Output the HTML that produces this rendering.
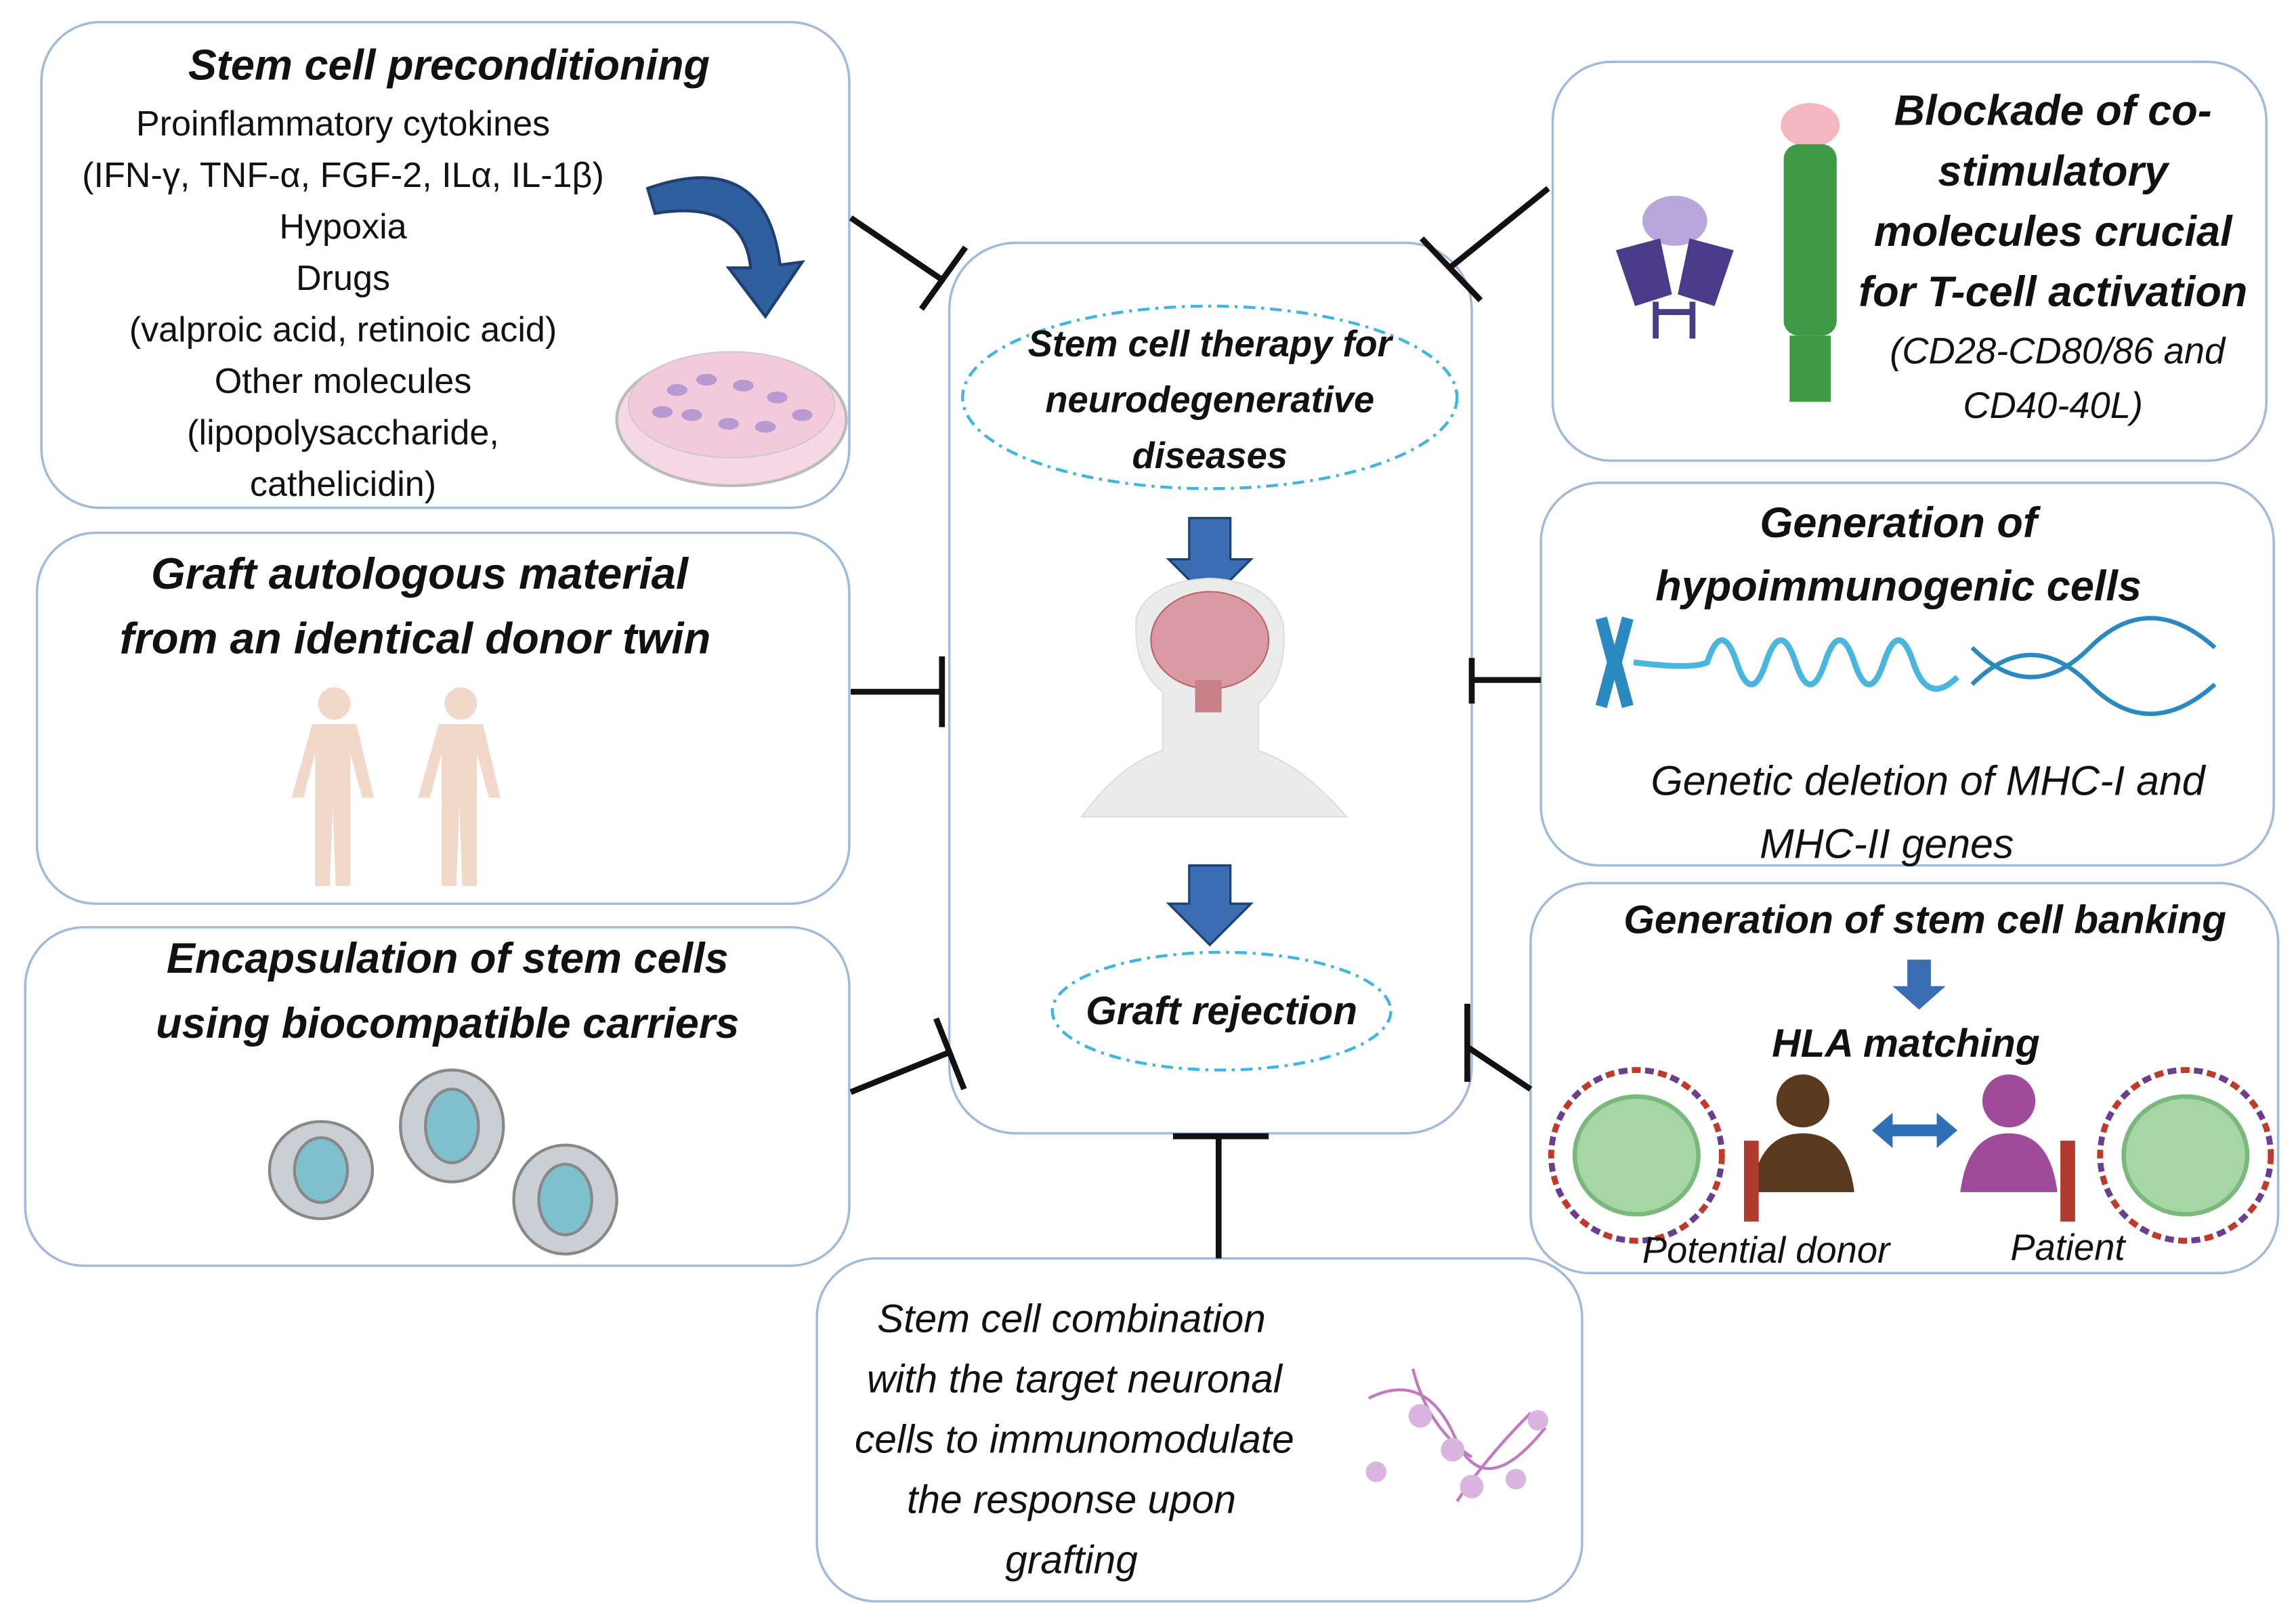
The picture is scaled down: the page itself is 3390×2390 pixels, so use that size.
<!DOCTYPE html>
<html><head><meta charset="utf-8"><style>
html,body{margin:0;padding:0;background:#fff}
svg{display:block}
text{font-family:"Liberation Sans",sans-serif;fill:#111}
.t{font-weight:bold;font-style:italic;font-size:29px}
.n{font-size:24px}
.i{font-style:italic;font-size:27px}
.b{fill:#fff;stroke:#9fbadc;stroke-width:1.6}
.l{stroke:#111;stroke-width:4;fill:none}
</style></head><body>
<svg width="3390" height="2390" viewBox="0 0 1560 1100" xmlns="http://www.w3.org/2000/svg">
<!-- boxes -->
<rect class="b" x="28" y="15" width="549" height="330" rx="40"/>
<rect class="b" x="25" y="362" width="552" height="252" rx="40"/>
<rect class="b" x="17" y="630" width="560" height="230" rx="40"/>
<rect class="b" x="645" y="165" width="355" height="605" rx="45"/>
<rect class="b" x="1055" y="42" width="485" height="271" rx="40"/>
<rect class="b" x="1047" y="328" width="498" height="260" rx="40"/>
<rect class="b" x="1040" y="600" width="508" height="265" rx="40"/>
<rect class="b" x="555" y="855" width="520" height="233" rx="40"/>

<!-- inhibition connectors -->
<line class="l" x1="578" y1="148" x2="640" y2="190"/><line class="l" x1="626" y1="210" x2="656" y2="168"/>
<line class="l" x1="578" y1="470" x2="640" y2="470"/><line class="l" x1="640" y1="446" x2="640" y2="494"/>
<line class="l" x1="578" y1="742" x2="645" y2="715"/><line class="l" x1="636" y1="692" x2="655" y2="740"/>
<line class="l" x1="1052" y1="128" x2="985" y2="182"/><line class="l" x1="966" y1="162" x2="1006" y2="204"/>
<line class="l" x1="1047" y1="462" x2="1000" y2="462"/><line class="l" x1="1000" y1="447" x2="1000" y2="478"/>
<line class="l" x1="1040" y1="740" x2="998" y2="712"/><line class="l" x1="997" y1="682" x2="997" y2="735"/>
<line class="l" x1="828" y1="855" x2="828" y2="772"/><line class="l" x1="797" y1="772" x2="862" y2="772"/>

<!-- center -->
<ellipse cx="822" cy="270" rx="168" ry="62" fill="none" stroke="#3fb6e0" stroke-width="2" stroke-dasharray="8,4,2,4"/>
<text class="t" x="822" y="242" text-anchor="middle" font-size="25" style="font-size:25px">Stem cell  therapy for</text>
<text class="t" x="822" y="280" text-anchor="middle" style="font-size:25px">neurodegenerative</text>
<text class="t" x="822" y="318" text-anchor="middle" style="font-size:25px">diseases</text>
<polygon points="808,352 836,352 836,380 850,380 822,408 794,380 808,380" fill="#3b6db3" stroke="#1f3f70" stroke-width="1.5"/>
<!-- head -->
<path d="M735,555 Q760,520 790,510 L790,470 Q770,455 772,420 Q780,395 822,393 Q865,395 872,425 Q875,460 855,478 L855,510 Q885,520 915,555 Z" fill="#ececec" stroke="#ddd"/>
<ellipse cx="822" cy="435" rx="40" ry="33" fill="#d99aa3" stroke="#b66" stroke-width="1"/>
<rect x="812" y="462" width="18" height="22" fill="#c77f88"/>
<polygon points="808,588 836,588 836,614 850,614 822,642 794,614 808,614" fill="#3b6db3" stroke="#1f3f70" stroke-width="1.5"/>
<ellipse cx="830" cy="687" rx="115" ry="40" fill="none" stroke="#3fb6e0" stroke-width="2" stroke-dasharray="8,4,2,4"/>
<text class="t" x="830" y="696" text-anchor="middle" style="font-size:27px">Graft rejection</text>

<!-- box1 -->
<text class="t" x="305" y="54" text-anchor="middle">Stem cell preconditioning</text>
<g class="n" text-anchor="middle">
<text class="n" x="233" y="92" text-anchor="middle">Proinflammatory cytokines</text>
<text class="n" x="233" y="127" text-anchor="middle">(IFN-γ, TNF-α, FGF-2, ILα, IL-1β)</text>
<text class="n" x="233" y="162" text-anchor="middle">Hypoxia</text>
<text class="n" x="233" y="197" text-anchor="middle">Drugs</text>
<text class="n" x="233" y="232" text-anchor="middle">(valproic acid,  retinoic acid)</text>
<text class="n" x="233" y="267" text-anchor="middle">Other molecules</text>
<text class="n" x="233" y="302" text-anchor="middle">(lipopolysaccharide,</text>
<text class="n" x="233" y="337" text-anchor="middle">cathelicidin)</text>
</g>
<path d="M440,128 Q520,100 530,180 L545,178 L520,215 L495,182 L510,182 Q505,135 445,145 Z" fill="#2f5f9f" stroke="#1f3f70" stroke-width="2"/>
<ellipse cx="497" cy="285" rx="78" ry="45" fill="#f6d7e4" stroke="#bbb" stroke-width="2"/>
<ellipse cx="497" cy="275" rx="70" ry="36" fill="#f3c9dc" stroke="#ccc"/>
<g fill="#b79ad0"><ellipse cx="460" cy="265" rx="7" ry="4"/><ellipse cx="480" cy="258" rx="7" ry="4"/><ellipse cx="505" cy="262" rx="7" ry="4"/><ellipse cx="528" cy="270" rx="7" ry="4"/><ellipse cx="470" cy="282" rx="7" ry="4"/><ellipse cx="495" cy="288" rx="7" ry="4"/><ellipse cx="520" cy="290" rx="7" ry="4"/><ellipse cx="545" cy="282" rx="7" ry="4"/><ellipse cx="450" cy="280" rx="7" ry="4"/></g>

<!-- box2 -->
<text class="t" x="285" y="400" text-anchor="middle" style="font-size:30px">Graft autologous material</text>
<text class="t" x="282" y="444" text-anchor="middle" style="font-size:30px">from an identical donor twin</text>
<g fill="#f2d8c8">
<circle cx="227" cy="478" r="11"/><path d="M212,492 h30 l12,50 h-8 l-8,-30 l0,90 h-10 l-2,-55 l-2,55 h-10 l0,-90 l-8,30 h-8 z"/>
<circle cx="313" cy="478" r="11"/><path d="M298,492 h30 l12,50 h-8 l-8,-30 l0,90 h-10 l-2,-55 l-2,55 h-10 l0,-90 l-8,30 h-8 z"/>
</g>

<!-- box3 -->
<text class="t" x="304" y="661" text-anchor="middle">Encapsulation of  stem cells</text>
<text class="t" x="304" y="705" text-anchor="middle">using biocompatible carriers</text>
<g stroke="#888" stroke-width="2">
<ellipse cx="218" cy="795" rx="35" ry="33" fill="#c9cfd3"/><ellipse cx="218" cy="795" rx="18" ry="22" fill="#7fc0cf"/>
<ellipse cx="307" cy="765" rx="35" ry="38" fill="#c9cfd3"/><ellipse cx="307" cy="765" rx="18" ry="25" fill="#7fc0cf"/>
<ellipse cx="384" cy="815" rx="35" ry="37" fill="#c9cfd3"/><ellipse cx="384" cy="815" rx="18" ry="24" fill="#7fc0cf"/>
</g>

<!-- box5 -->
<text class="t" x="1395" y="85" text-anchor="middle">Blockade of co-</text>
<text class="t" x="1395" y="126" text-anchor="middle">stimulatory</text>
<text class="t" x="1395" y="167" text-anchor="middle">molecules crucial</text>
<text class="t" x="1395" y="208" text-anchor="middle">for T-cell activation</text>
<text class="i" x="1398" y="247" text-anchor="middle" style="font-size:25px">(CD28-CD80/86 and</text>
<text class="i" x="1395" y="284" text-anchor="middle" style="font-size:25px">CD40-40L)</text>
<ellipse cx="1138" cy="150" rx="22" ry="17" fill="#b9a7dc"/>
<path d="M1098,170 l30,-8 l8,38 l-25,8 z M1178,170 l-30,-8 l-8,38 l25,8 z" fill="#4a3a8a"/>
<path d="M1125,205 v25 M1150,205 v25 M1125,212 h25" stroke="#4a3a8a" stroke-width="4"/>
<ellipse cx="1230" cy="85" rx="20" ry="15" fill="#f4b7c0"/>
<rect x="1212" y="98" width="36" height="130" rx="10" fill="#3f9a45"/>
<rect x="1216" y="228" width="28" height="45" fill="#3f9a45"/>

<!-- box6 -->
<text class="t" x="1290" y="365" text-anchor="middle">Generation of</text>
<text class="t" x="1290" y="408" text-anchor="middle">hypoimmunogenic cells</text>
<path d="M1088,420 l8,30 l-8,30 M1106,420 l-8,30 l8,30" stroke="#2a8ac0" stroke-width="8" fill="none"/>
<path d="M1110,450 q40,5 50,0 q10,-30 20,0 q10,30 20,0 q10,-30 20,0 q10,30 20,0 q10,-30 20,0 q10,30 20,0 q10,-30 20,0 q10,30 30,10" stroke="#4ab6dd" stroke-width="4" fill="none"/>
<path d="M1340,440 q40,40 80,0 q40,-40 85,0 M1340,465 q40,-40 80,0 q40,40 85,0" stroke="#2a8ac0" stroke-width="3" fill="none"/>
<text class="i" x="1310" y="540" text-anchor="middle" style="font-size:28px">Genetic deletion of MHC-I and</text>
<text class="i" x="1282" y="583" text-anchor="middle" style="font-size:28px">MHC-II genes</text>

<!-- box7 -->
<text class="t" x="1308" y="634" text-anchor="middle" style="font-size:27px">Generation of stem cell banking</text>
<polygon points="1296,652 1312,652 1312,670 1322,670 1304,686 1286,670 1296,670" fill="#3b6db3"/>
<text class="t" x="1295" y="718" text-anchor="middle" style="font-size:27px">HLA matching</text>
<ellipse cx="1112" cy="785" rx="42" ry="40" fill="#a6d6a6" stroke="#7bb87b" stroke-width="3"/>
<ellipse cx="1485" cy="785" rx="42" ry="40" fill="#a6d6a6" stroke="#7bb87b" stroke-width="3"/>
<g stroke-width="4" fill="none">
<circle cx="1112" cy="785" r="58" stroke="#c0392b" stroke-dasharray="6,12"/>
<circle cx="1112" cy="785" r="58" stroke="#6b3f8f" stroke-dasharray="6,12" stroke-dashoffset="9"/>
<circle cx="1485" cy="785" r="58" stroke="#c0392b" stroke-dasharray="6,12"/>
<circle cx="1485" cy="785" r="58" stroke="#6b3f8f" stroke-dasharray="6,12" stroke-dashoffset="9"/>
</g>
<circle cx="1225" cy="748" r="18" fill="#5a3a1e"/><path d="M1190,810 q5,-40 35,-40 q30,0 35,40 z" fill="#5a3a1e"/>
<rect x="1185" y="775" width="10" height="55" fill="#b03a2e"/>
<path d="M1272,768 l14,-12 v8 h30 v-8 l14,12 l-14,12 v-8 h-30 v8 z" fill="#2f6fb5"/>
<circle cx="1365" cy="748" r="18" fill="#a04a9a"/><path d="M1332,810 q5,-40 33,-40 q28,0 33,40 z" fill="#a04a9a"/>
<rect x="1400" y="775" width="10" height="55" fill="#b03a2e"/>
<text class="i" x="1200" y="858" text-anchor="middle" style="font-size:25px">Potential donor</text>
<text class="i" x="1405" y="856" text-anchor="middle" style="font-size:25px">Patient</text>

<!-- box8 -->
<text class="i" x="728" y="905" text-anchor="middle">Stem cell combination</text>
<text class="i" x="730" y="946" text-anchor="middle">with the target neuronal</text>
<text class="i" x="730" y="987" text-anchor="middle">cells to immunomodulate</text>
<text class="i" x="728" y="1028" text-anchor="middle">the response upon</text>
<text class="i" x="728" y="1069" text-anchor="middle">grafting</text>
<g stroke="#c07ac0" stroke-width="2" fill="none"><path d="M930,950 q40,-20 60,30 q20,40 60,-10"/><path d="M960,930 q10,40 40,60"/><path d="M990,1020 q20,-30 50,-60"/></g>
<g fill="#d9b5e0"><circle cx="965" cy="962" r="8"/><circle cx="987" cy="985" r="8"/><circle cx="1000" cy="1010" r="8"/><circle cx="1045" cy="965" r="7"/><circle cx="935" cy="1000" r="7"/><circle cx="1030" cy="1005" r="7"/></g>
</svg>
</body></html>
